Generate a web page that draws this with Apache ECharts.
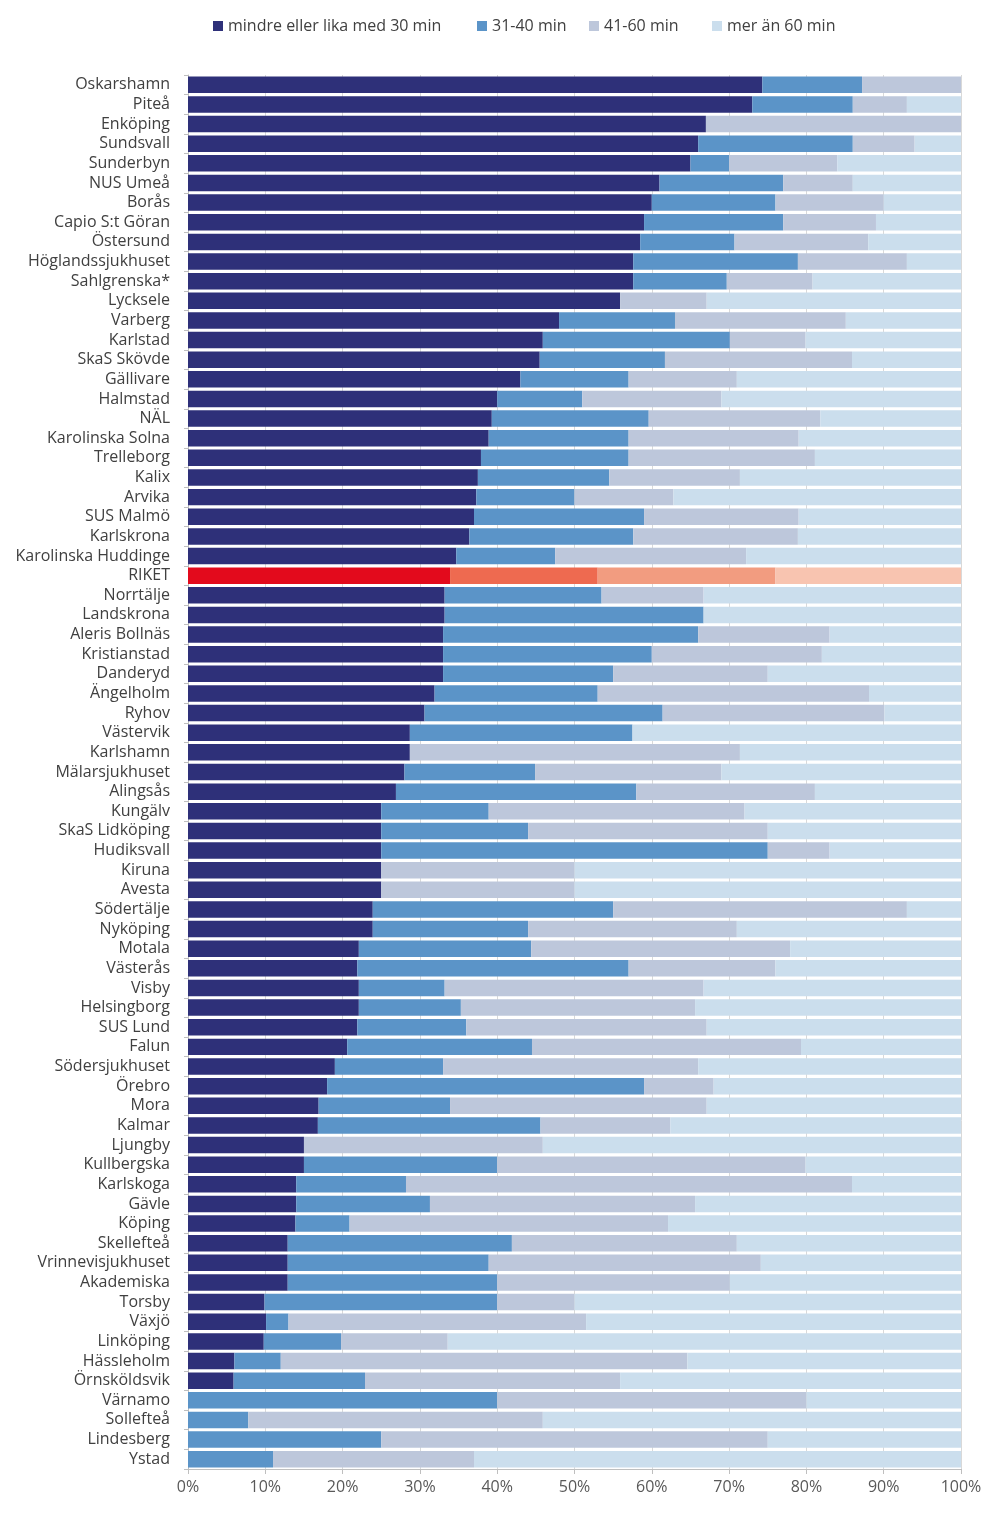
<!DOCTYPE html>
<html>
<head>
<meta charset="utf-8">
<script src="https://cdn.jsdelivr.net/npm/echarts@6/dist/echarts.min.js"></script>
<style>html,body{margin:0;padding:0;background:#fff}#c{width:1004px;height:1518px}</style>
</head>
<body>
<div id="c"></div>
<script>
const categories = ["Oskarshamn","Piteå","Enköping","Sundsvall","Sunderbyn","NUS Umeå","Borås","Capio S:t Göran","Östersund","Höglandssjukhuset","Sahlgrenska*","Lycksele","Varberg","Karlstad","SkaS Skövde","Gällivare","Halmstad","NÄL","Karolinska Solna","Trelleborg","Kalix","Arvika","SUS Malmö","Karlskrona","Karolinska Huddinge","RIKET","Norrtälje","Landskrona","Aleris Bollnäs","Kristianstad","Danderyd","Ängelholm","Ryhov","Västervik","Karlshamn","Mälarsjukhuset","Alingsås","Kungälv","SkaS Lidköping","Hudiksvall","Kiruna","Avesta","Södertälje","Nyköping","Motala","Västerås","Visby","Helsingborg","SUS Lund","Falun","Södersjukhuset","Örebro","Mora","Kalmar","Ljungby","Kullbergska","Karlskoga","Gävle","Köping","Skellefteå","Vrinnevisjukhuset","Akademiska","Torsby","Växjö","Linköping","Hässleholm","Örnsköldsvik","Värnamo","Sollefteå","Lindesberg","Ystad"];
const seriesNames = ["mindre eller lika med 30 min","31-40 min","41-60 min","mer än 60 min"];
const upTo30 = [74.3,73,67,66,65,61,60,59,58.5,57.6,57.6,55.9,48,45.9,45.5,43,40,39.3,38.9,37.9,37.5,37.3,37,36.4,34.7,33.9,33.2,33.2,33,33,33,31.9,30.6,28.7,28.7,28,26.9,25,25,25,25,25,23.9,23.9,22.1,21.9,22.1,22.1,21.9,20.6,19,18,16.9,16.8,15,15,14,14,13.9,12.9,12.9,12.9,9.9,10.1,9.8,6,5.9,0,0,0,0];
const m31to40 = [12.9,13,0,20,5,16,16,18,12.2,21.3,12.1,0,15,24.2,16.2,14,11,20.3,18.1,19.1,17,12.7,22,21.2,12.8,19.1,20.3,33.5,33,27,22,21.1,30.8,28.8,0,16.9,31.1,13.9,19,50,0,0,31.1,20.1,22.3,35.1,11.1,13.2,14.1,23.9,14,41,17,28.8,0,25,14.2,17.3,7,29,26,27.1,30.1,2.9,10,6,17,40,7.8,25,11];
const m41to60 = [12.8,7,33,8,14,9,14,12,17.3,14.1,11.1,11.2,22.1,9.8,24.2,14,18,22.2,22,24.1,16.9,12.8,20,21.3,24.7,23,13.2,0,17,22,20,35.1,28.7,0,42.7,24.1,23.1,33.1,31,8,25,25,38,27,33.5,19,33.5,30.3,31.1,34.8,33,9,33.2,16.8,30.9,39.9,57.7,34.3,41.2,29.1,35.2,30.1,10,38.5,13.8,52.6,33,40,38.1,50,26];
const over60 = [0,7,0,6,16,14,10,11,12,7,19.2,32.9,14.9,20.1,14.1,29,31,18.2,21,18.9,28.6,37.2,21,21.1,27.8,24,33.3,33.3,17,18,25,11.9,9.9,42.5,28.6,31,18.9,28,25,17,50,50,7,29,22.1,24,33.3,34.4,32.9,20.7,34,32,32.9,37.6,54.1,20.1,14.1,34.4,37.9,29,25.9,29.9,50,48.5,66.4,35.4,44.1,20,54.1,25,63];
const xTicks = [0,10,20,30,40,50,60,70,80,90,100];

const colors = ["#2E3079","#5B94C8","#BDC7DB","#CBDEED"];
const highlightName = "RIKET";
const highlightColors = ["#E30A1C","#EE6A50","#F29C80","#F8C4B0"];
const raw = [upTo30, m31to40, m41to60, over60];
const legendLefts = [208, 472, 584, 707];
const FONT = '"Open Sans", "Noto Sans", sans-serif';

const series = raw.map((arr, si) => ({
  name: seriesNames[si],
  type: 'bar',
  stack: 'total',
  barCategoryGap: '16%',
  itemStyle: {color: colors[si]},
  emphasis: {disabled: true},
  data: arr.map((v, i) => categories[i] === highlightName ? {value: v, itemStyle: {color: highlightColors[si]}} : v)
}));

const legends = seriesNames.map((n, i) => ({
  top: 13,
  left: legendLefts[i],
  itemWidth: 10,
  itemHeight: 10,
  icon: 'rect',
  selectedMode: false,
  textStyle: {fontSize: 16, color: '#404040', fontFamily: FONT},
  data: [n]
}));

const chart = echarts.init(document.getElementById('c'), null, {renderer: 'canvas'});
chart.setOption({
  animation: false,
  backgroundColor: '#ffffff',
  textStyle: {fontFamily: FONT},
  legend: legends,
  grid: {left: 188, right: 43, top: 75, bottom: 49, containLabel: false},
  xAxis: {
    type: 'value',
    min: 0, max: 100, interval: 10,
    axisLine: {show: true, lineStyle: {color: '#BFBFBF'}},
    axisTick: {show: true, length: 5, lineStyle: {color: '#BFBFBF'}},
    splitLine: {show: true, lineStyle: {color: '#D9D9D9', width: 1}},
    axisLabel: {fontSize: 16, color: '#595959', margin: 10, fontFamily: FONT, formatter: v => xTicks.includes(v) ? v + '%' : ''}
  },
  yAxis: {
    type: 'category',
    inverse: true,
    data: categories,
    axisLine: {show: true, lineStyle: {color: '#BFBFBF'}},
    axisTick: {show: true, length: 4, lineStyle: {color: '#BFBFBF'}},
    axisLabel: {fontSize: 16, lineHeight: 18, interval: 0, hideOverlap: false, color: '#404040', margin: 18, fontFamily: FONT}
  },
  series: series
});
</script>
</body>
</html>
